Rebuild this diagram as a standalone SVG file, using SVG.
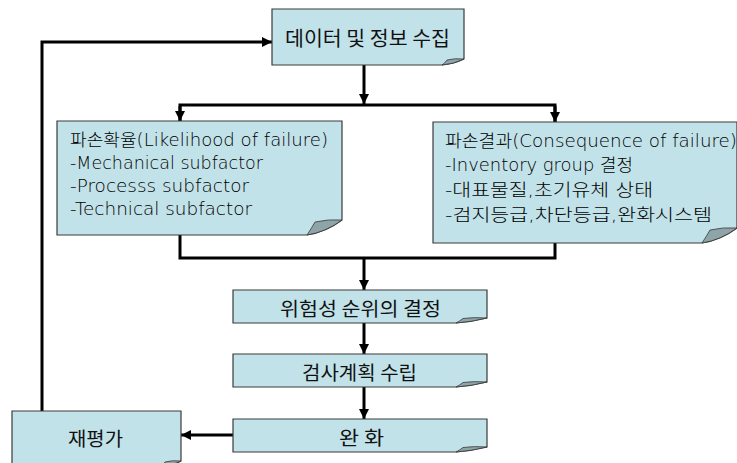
<svg xmlns="http://www.w3.org/2000/svg" width="737" height="463" viewBox="0 0 737 463">
<defs>
<style>
.box{fill:#C2E2E9;stroke:#3a3a3a;stroke-width:1.2}
.fold{fill:#8FA4A9;stroke:#3a3a3a;stroke-width:0.8}
.ln{fill:none;stroke:#000;stroke-width:3}
.t{font-family:"Noto Sans CJK KR","DejaVu Sans",sans-serif;fill:#111;text-anchor:middle}
.m{font-family:"DejaVu Sans","Noto Sans CJK KR",sans-serif;font-size:17px;font-weight:300;fill:#000}
</style>
<marker id="ah" markerUnits="userSpaceOnUse" markerWidth="12" markerHeight="12" refX="10" refY="5" orient="auto">
<path d="M0,0 L10,5 L0,10 Z" fill="#000"/>
</marker>
</defs>
<rect width="737" height="463" fill="#fff"/>
<g id="connectors">
<path class="ln" d="M364 65 V104" marker-end="url(#ah)"/>
<path class="ln" d="M180 121 V105 H555 V122"/>
<path class="ln" d="M180 106 V121" marker-end="url(#ah)"/>
<path class="ln" d="M555 106 V122" marker-end="url(#ah)"/>
<path class="ln" d="M180 235 V258 H555 V243"/>
<path class="ln" d="M364 258 V290" marker-end="url(#ah)"/>
<path class="ln" d="M364 323 V354" marker-end="url(#ah)"/>
<path class="ln" d="M364 387 V419" marker-end="url(#ah)"/>
<path class="ln" d="M233 435 H181" marker-end="url(#ah)"/>
<path class="ln" d="M42 411 V42 H272" marker-end="url(#ah)"/>
</g>
<g id="node-collect">
<path class="box" d="M272 9 H464 V59 Q454 64 442 65 H272 Z"/>
<path class="fold" d="M442 65 Q454 64 464 59 Q455 58 447 60 Q445 63 442 65 Z"/>
<text class="t" x="367.5" y="46" font-size="20" textLength="165" lengthAdjust="spacingAndGlyphs">데이터 및 정보 수집</text>
</g>
<g id="node-likelihood">
<path class="box" d="M57 121 H342 V220 Q326 232 307 235 H57 Z"/>
<path class="fold" d="M307 235 Q326 232 342 220 Q328 219 315 222 Q311 229 307 235 Z"/>
<text class="m" x="70" y="146" textLength="258" lengthAdjust="spacingAndGlyphs">파손확율(Likelihood of failure)</text>
<text class="m" x="70" y="169" textLength="193" lengthAdjust="spacingAndGlyphs">-Mechanical subfactor</text>
<text class="m" x="70" y="192" textLength="179" lengthAdjust="spacingAndGlyphs">-Processs subfactor</text>
<text class="m" x="70" y="215" textLength="182" lengthAdjust="spacingAndGlyphs">-Technical subfactor</text>
</g>
<g id="node-consequence">
<path class="box" d="M433 122 H737 V228 Q721 240 702 243 H433 Z"/>
<path class="fold" d="M702 243 Q721 240 737 228 Q723 227 710 230 Q706 237 702 243 Z"/>
<text class="m" x="445" y="147" textLength="292" lengthAdjust="spacingAndGlyphs">파손결과(Consequence of failure)</text>
<text class="m" x="445" y="171" textLength="188" lengthAdjust="spacingAndGlyphs">-Inventory group 결정</text>
<text class="m" x="445" y="196" textLength="208" lengthAdjust="spacingAndGlyphs">-대표물질,초기유체 상태</text>
<text class="m" x="445" y="221" textLength="267" lengthAdjust="spacingAndGlyphs">-검지등급,차단등급,완화시스템</text>
</g>
<g id="node-ranking">
<path class="box" d="M233 290 H487 V318 Q471 322 456 323 H233 Z"/>
<path class="fold" d="M456 323 Q471 322 487 318 Q474 317 463 318.5 Q460 321 456 323 Z"/>
<text class="t" x="360.5" y="316" font-size="19" textLength="161" lengthAdjust="spacingAndGlyphs">위험성 순위의 결정</text>
</g>
<g id="node-plan">
<path class="box" d="M233 354 H487 V382 Q471 386 456 387 H233 Z"/>
<path class="fold" d="M456 387 Q471 386 487 382 Q474 381 463 382.5 Q460 385 456 387 Z"/>
<text class="t" x="359.5" y="380" font-size="19" textLength="115" lengthAdjust="spacingAndGlyphs">검사계획 수립</text>
</g>
<g id="node-mitigate">
<path class="box" d="M233 419 H487 V447 Q471 451 456 452 H233 Z"/>
<path class="fold" d="M456 452 Q471 451 487 447 Q474 446 463 447.5 Q460 450 456 452 Z"/>
<text class="t" x="361.5" y="445" font-size="19" textLength="45" lengthAdjust="spacingAndGlyphs">완 화</text>
</g>
<g id="node-reeval">
<path class="box" d="M12 411 H181 V461 Q172 466 161 467 H12 Z"/>
<path class="fold" d="M161 467 Q172 466 181 461 Q172 460 165 462 Q163 465 161 467 Z"/>
<text class="t" x="95.5" y="446" font-size="19" textLength="55" lengthAdjust="spacingAndGlyphs">재평가</text>
</g>
</svg>
